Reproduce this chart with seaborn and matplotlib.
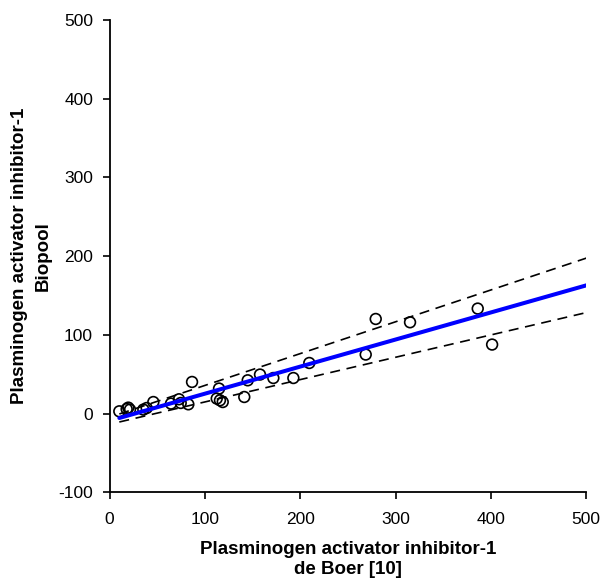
import numpy as np
import pandas as pd
import matplotlib
matplotlib.use("Agg")
import matplotlib.pyplot as plt
import seaborn as sns

# Data
de_boer = [10.1, 17.8, 19.5, 21.3, 35.3, 38.8, 45.8, 64.3, 72.7, 74.5, 82.5, 86.4,
           114.7, 112.3, 115.7, 118.6, 141.2, 144.8, 157.7, 171.7, 192.7, 209.4,
           268.6, 279.1, 315.1, 386.1, 401.2]
biopool = [2.9, 5.8, 7.6, 5.1, 5.1, 7.1, 14.7, 12.7, 18.2, 13.5, 11.8, 40.2,
           31.8, 19.1, 16.9, 14.7, 21.1, 42.3, 49.6, 45.2, 45.2, 64.3,
           75.0, 120.2, 116.0, 133.4, 87.7]
x_ticks = [0, 100, 200, 300, 400, 500]
y_ticks = [-100, 0, 100, 200, 300, 400, 500]
x_label = "Plasminogen activator inhibitor-1\nde Boer [10]"
y_label = "Plasminogen activator inhibitor-1\nBiopool"

df = pd.DataFrame({"x": de_boer, "y": biopool})

sns.set_theme(style="white")
plt.rcParams["font.family"] = ["Liberation Sans", "DejaVu Sans"]
plt.rcParams["axes.unicode_minus"] = False
plt.rcParams["text.color"] = "black"
plt.rcParams["axes.labelcolor"] = "black"
plt.rcParams["xtick.color"] = "black"
plt.rcParams["ytick.color"] = "black"

fig = plt.figure(figsize=(6.02, 5.79), dpi=100)
ax = fig.add_axes([0.1822, 0.1497, 0.7917, 0.8158])

x = df["x"].to_numpy()
y = df["y"].to_numpy()
n = len(x)

# reduced major axis (model II) regression
r = np.corrcoef(x, y)[0, 1]
slope = np.sign(r) * y.std(ddof=1) / x.std(ddof=1)
intercept = y.mean() - slope * x.mean()

# band: residual spread modelled linearly in x (±1 SD)
resid = y - (slope * x + intercept)
c1, c0 = np.polyfit(x, np.abs(resid), 1)
xg = np.sort(np.append(x, x_ticks[-1]))
yhat = slope * xg + intercept
half = np.sqrt(np.pi / 2) * (c0 + c1 * xg)
band = pd.DataFrame({"x": xg, "fit": yhat, "lo": yhat - half, "hi": yhat + half})

dash = (0, (6, 4))
sns.lineplot(data=band, x="x", y="hi", ax=ax, color="black", lw=1.2,
             linestyle=dash, sort=True)
sns.lineplot(data=band, x="x", y="lo", ax=ax, color="black", lw=1.2,
             linestyle=dash, sort=True)
sns.scatterplot(data=df, x="x", y="y", ax=ax, marker="o", s=60,
                facecolor="none", edgecolor="black", linewidth=1.2, zorder=3)
sns.lineplot(data=band, x="x", y="fit", ax=ax, color="#0000ff", lw=2.9, zorder=4)

ax.set_xlim(0, 500)
ax.set_ylim(-100, 500)
ax.set_xticks(x_ticks)
ax.set_yticks(y_ticks)
ax.set_xlabel(x_label, fontsize=13.5, fontweight="bold", labelpad=10, linespacing=1.28)
ax.set_ylabel(y_label, fontsize=13.5, fontweight="bold", labelpad=5, linespacing=1.47)
ax.tick_params(axis="both", which="major", labelsize=12.5, direction="out",
               length=5, width=1.2, color="black", pad=7, left=True, bottom=True)
ax.tick_params(axis="x", pad=9)
sns.despine(ax=ax)
for sp in ["left", "bottom"]:
    ax.spines[sp].set_color("black")
    ax.spines[sp].set_linewidth(1.3)
ax.grid(False)

fig.savefig("out.png", dpi=100)
